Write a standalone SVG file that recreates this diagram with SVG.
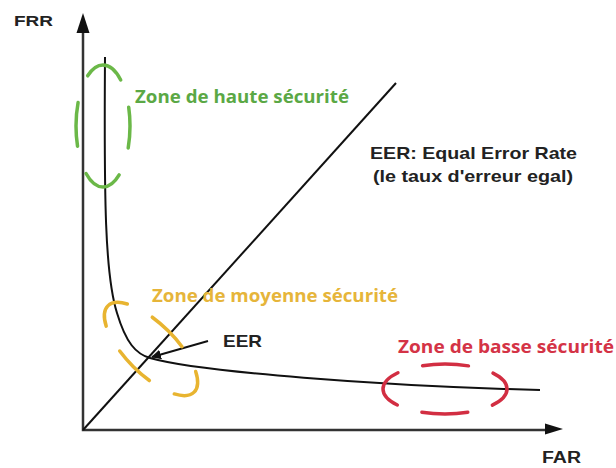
<svg xmlns="http://www.w3.org/2000/svg" width="616" height="468" viewBox="0 0 616 468">
<defs>
<style>
.axis{stroke:#333;stroke-width:2.5;fill:none}
.line{stroke:#111;stroke-width:2;fill:none}
.lbl{font-family:"Liberation Sans",Arial,sans-serif;font-weight:bold;fill:#222}
.zone{font-family:"Open Sans","Liberation Sans",sans-serif;font-weight:bold}
.ell{fill:none;stroke-width:3.5;stroke-linecap:round}
</style>
<marker id="ah" viewBox="0 0 10 10" refX="9" refY="5" markerWidth="10" markerHeight="10" markerUnits="userSpaceOnUse" orient="auto">
<path d="M0,0 L10,5 L0,10 z" fill="#111"/>
</marker>
</defs>
<rect width="616" height="468" fill="#fff"/>
<g id="connectors">
<path class="axis" d="M83,30 V430 H548"/>
<path d="M83,13 L76.5,33 L89.5,33 z" fill="#111"/>
<path d="M563,429 L545,423.5 L545,434.5 z" fill="#111"/>
<path class="line" d="M83,430 L396,83"/>
<path class="line" d="M105,57 C104,200 105,275 117,313 C126,343 136,354 150,358 C200,372 380,386 540,390"/>
<path class="line" d="M208,341 L152,357" marker-end="url(#ah)" stroke-width="2"/>
</g>
<g id="zone-haute">
<ellipse class="ell" cx="103" cy="126" rx="27" ry="61" stroke="#6BB848" stroke-dasharray="44 28.4" stroke-dashoffset="22"/>
<text class="zone" x="135" y="103" font-size="18" fill="#5BA845" textLength="214" lengthAdjust="spacingAndGlyphs">Zone de haute sécurité</text>
</g>
<g id="zone-moyenne">
<ellipse class="ell" cx="151" cy="349" rx="61" ry="25" transform="rotate(45 151 349)" stroke="#E8B430" stroke-dasharray="42 28.2" stroke-dashoffset="21"/>
<text class="zone" x="152" y="302" font-size="18" fill="#E6B53A" textLength="246" lengthAdjust="spacingAndGlyphs">Zone de moyenne sécurité</text>
</g>
<g id="zone-basse">
<ellipse class="ell" cx="445" cy="389" rx="62" ry="25" stroke="#D22E42" stroke-dasharray="46 25.5" stroke-dashoffset="23"/>
<text class="zone" x="398" y="353" font-size="18" fill="#D43346" textLength="216" lengthAdjust="spacingAndGlyphs">Zone de basse sécurité</text>
</g>
<g id="eer-point">
<text class="lbl" x="223" y="347" font-size="17" textLength="39" lengthAdjust="spacingAndGlyphs">EER</text>
</g>
<g id="eer-legend">
<text class="lbl" x="370" y="159" font-size="17" textLength="207" lengthAdjust="spacingAndGlyphs">EER: Equal Error Rate</text>
<text class="lbl" x="373" y="182" font-size="17" textLength="200" lengthAdjust="spacingAndGlyphs">(le taux d'erreur egal)</text>
</g>
<g id="axis-labels">
<text class="lbl" x="14" y="26" font-size="15" textLength="39" lengthAdjust="spacingAndGlyphs">FRR</text>
<text class="lbl" x="542" y="463" font-size="16" textLength="39" lengthAdjust="spacingAndGlyphs">FAR</text>
</g>
</svg>
